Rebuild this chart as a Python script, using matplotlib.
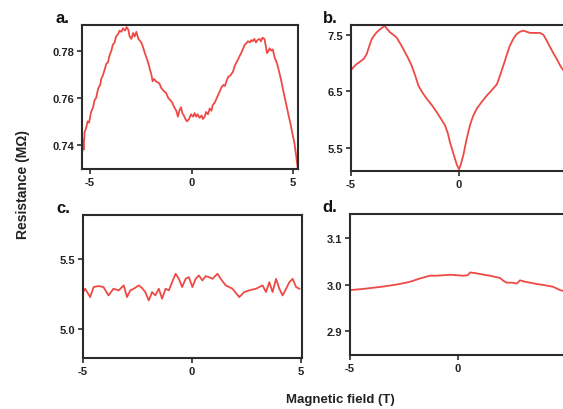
import matplotlib
matplotlib.use("Agg")
import matplotlib.pyplot as plt

plt.rcParams['font.family'] = ['Liberation Sans', 'DejaVu Sans']
plt.rcParams['axes.unicode_minus'] = False

# Panel a
a_x = [-5.40, -5.36, -5.32, -5.27, -5.20, -5.12, -5.05, -4.95, -4.85, -4.78, -4.70, -4.60, -4.50, -4.45,
       -4.37, -4.28, -4.20, -4.12, -4.04, -3.95, -3.88, -3.79, -3.72, -3.62, -3.55, -3.45, -3.38, -3.28,
       -3.20, -3.12, -3.05, -2.96, -2.88, -2.80, -2.72, -2.62, -2.52, -2.45, -2.39, -2.30, -2.22, -2.14,
       -2.05, -1.98, -1.92, -1.85, -1.75, -1.65, -1.58, -1.48, -1.38, -1.25, -1.15, -1.05, -0.95, -0.85,
       -0.75, -0.67, -0.60, -0.52, -0.45, -0.38, -0.30, -0.22, -0.12, -0.02, 0.08, 0.15, 0.23, 0.30,
       0.40, 0.50, 0.56, 0.65, 0.72, 0.81, 0.90, 0.98, 1.05, 1.15, 1.25, 1.38, 1.48, 1.58, 1.65, 1.72,
       1.82, 1.92, 2.04, 2.15, 2.25, 2.36, 2.45, 2.55, 2.62, 2.69, 2.78, 2.88, 2.95, 3.02, 3.10, 3.18,
       3.25, 3.35, 3.42, 3.50, 3.60, 3.66, 3.72, 3.77, 3.85, 3.93, 4.01, 4.10, 4.18, 4.25, 4.35, 4.43,
       4.50, 4.60, 4.70, 4.80, 4.88, 4.97, 5.07, 5.15, 5.24]
a_y = [0.7360, 0.7420, 0.7380, 0.7455, 0.7470, 0.7500, 0.7495, 0.7540, 0.7560, 0.7590, 0.7600, 0.7640,
       0.7655, 0.7680, 0.7695, 0.7720, 0.7745, 0.7750, 0.7780, 0.7800, 0.7825, 0.7835, 0.7860, 0.7870,
       0.7885, 0.7880, 0.7895, 0.7885, 0.7900, 0.7890, 0.7860, 0.7850, 0.7875, 0.7860, 0.7880, 0.7850,
       0.7840, 0.7830, 0.7815, 0.7790, 0.7770, 0.7750, 0.7720, 0.7700, 0.7670, 0.7680, 0.7670, 0.7665,
       0.7660, 0.7640, 0.7630, 0.7620, 0.7600, 0.7590, 0.7580, 0.7560, 0.7545, 0.7520, 0.7545, 0.7560,
       0.7535, 0.7525, 0.7510, 0.7500, 0.7510, 0.7530, 0.7520, 0.7535, 0.7520, 0.7530, 0.7515, 0.7525,
       0.7510, 0.7520, 0.7540, 0.7530, 0.7555, 0.7545, 0.7570, 0.7580, 0.7600, 0.7625, 0.7645, 0.7655,
       0.7650, 0.7670, 0.7690, 0.7695, 0.7710, 0.7740, 0.7755, 0.7775, 0.7790, 0.7810, 0.7825, 0.7830,
       0.7840, 0.7835, 0.7845, 0.7840, 0.7850, 0.7835, 0.7845, 0.7850, 0.7840, 0.7855, 0.7850, 0.7820,
       0.7790, 0.7795, 0.7810, 0.7800, 0.7805, 0.7770, 0.7755, 0.7735, 0.7700, 0.7670, 0.7640, 0.7600,
       0.7560, 0.7520, 0.7490, 0.7450, 0.7410, 0.7360, 0.7300]

# Panel b
b_x = [-5.00, -4.87, -4.74, -4.62, -4.51, -4.39, -4.27, -4.15, -4.04, -3.92, -3.81, -3.70, -3.60,
       -3.50, -3.43, -3.33, -3.19, -3.05, -2.89, -2.70, -2.50, -2.35, -2.19, -2.03, -1.88, -1.70,
       -1.50, -1.25, -1.03, -0.85, -0.65, -0.52, -0.42, -0.30, -0.19, -0.10, 0.00, 0.08, 0.20, 0.35,
       0.51, 0.65, 0.82, 1.05, 1.28, 1.52, 1.75, 1.90, 2.05, 2.20, 2.36, 2.52, 2.67, 2.82, 2.98, 3.13,
       3.29, 3.45, 3.60, 3.75, 3.90, 4.05, 4.20, 4.37, 4.55, 4.70, 4.83, 5.05, 5.30]
b_y = [6.87, 6.93, 6.98, 7.01, 7.04, 7.08, 7.16, 7.30, 7.42, 7.49, 7.54, 7.58, 7.61, 7.64, 7.65,
       7.60, 7.54, 7.50, 7.45, 7.33, 7.19, 7.08, 6.95, 6.78, 6.60, 6.48, 6.37, 6.25, 6.13, 6.02, 5.90,
       5.76, 5.60, 5.45, 5.31, 5.20, 5.12, 5.20, 5.37, 5.65, 5.90, 6.06, 6.19, 6.31, 6.42, 6.52, 6.62,
       6.78, 6.95, 7.13, 7.31, 7.43, 7.51, 7.55, 7.57, 7.55, 7.53, 7.53, 7.53, 7.53, 7.50, 7.40, 7.29,
       7.17, 7.05, 6.94, 6.87, 6.72, 6.55]

# Panel c
c_x = [-5.00, -4.90, -4.67, -4.51, -4.29, -4.06, -3.83, -3.60, -3.36, -3.13, -2.98, -2.83, -2.67,
       -2.44, -2.29, -2.14, -1.98, -1.83, -1.68, -1.52, -1.37, -1.21, -1.06, -0.91, -0.75, -0.60,
       -0.45, -0.29, -0.14, 0.02, 0.17, 0.32, 0.48, 0.63, 0.78, 0.94, 1.17, 1.32, 1.55, 1.86, 2.17,
       2.40, 2.63, 2.94, 3.24, 3.40, 3.55, 3.70, 3.86, 4.01, 4.16, 4.32, 4.47, 4.62, 4.78, 4.93]
c_y = [5.262, 5.286, 5.226, 5.298, 5.305, 5.298, 5.238, 5.286, 5.274, 5.310, 5.226, 5.274, 5.286,
       5.310, 5.291, 5.262, 5.202, 5.262, 5.238, 5.286, 5.214, 5.286, 5.274, 5.333, 5.393, 5.357,
       5.298, 5.357, 5.369, 5.298, 5.357, 5.381, 5.345, 5.376, 5.369, 5.357, 5.393, 5.357, 5.310,
       5.286, 5.226, 5.262, 5.274, 5.286, 5.310, 5.262, 5.333, 5.262, 5.357, 5.286, 5.238, 5.286,
       5.333, 5.357, 5.298, 5.286]

# Panel d
d_x = [-5.00, -4.50, -3.92, -3.40, -2.84, -2.50, -2.22, -1.76, -1.30, -1.00, -0.68, -0.35, -0.06,
       0.25, 0.45, 0.56, 0.87, 1.20, 1.48, 1.94, 2.10, 2.25, 2.50, 2.72, 2.87, 3.10, 3.33, 3.65, 3.95,
       4.41, 4.72, 4.88, 5.30]
d_y = [2.988, 2.990, 2.993, 2.996, 3.000, 3.003, 3.006, 3.013, 3.019, 3.019, 3.020, 3.021, 3.020,
       3.019, 3.020, 3.026, 3.024, 3.021, 3.019, 3.014, 3.008, 3.004, 3.004, 3.002, 3.009, 3.006,
       3.004, 3.001, 2.999, 2.995, 2.988, 2.986, 2.982]

panels = [
    dict(label='a.', x=a_x, y=a_y, xlim=(-5.4, 5.25), ylim=(0.7298, 0.7909),
         xtl=['-5', '0', '5'], yticks=[0.74, 0.76, 0.78], yfmt='{:.2f}',
         pos=[0.1456, 0.5854, 0.3837, 0.3512]),
    dict(label='b.', x=b_x, y=b_y, xlim=(-5.0, 5.3), ylim=(5.09, 7.67),
         xtl=['-5', '0', ''], yticks=[5.5, 6.5, 7.5], yfmt='{:.1f}',
         pos=[0.6234, 0.5805, 0.3953, 0.3561]),
    dict(label='c.', x=c_x, y=c_y, xlim=(-5.0, 5.05), ylim=(4.79, 5.814),
         xtl=['-5', '0', '5'], yticks=[5.0, 5.5], yfmt='{:.1f}',
         pos=[0.1474, 0.1244, 0.3890, 0.3488]),
    dict(label='d.', x=d_x, y=d_y, xlim=(-5.0, 5.3), ylim=(2.848, 3.152),
         xtl=['-5', '0', ''], yticks=[2.9, 3.0, 3.1], yfmt='{:.1f}',
         pos=[0.6217, 0.1317, 0.3952, 0.3439]),
]

fig = plt.figure(figsize=(5.63, 4.10), dpi=100)
line_color = '#ee4a45'
frame_color = '#2b2b2b'

for p in panels:
    ax = fig.add_axes(p['pos'])
    ax.plot(p['x'], p['y'], color=line_color, lw=1.3)
    ax.set_xlim(*p['xlim'])
    ax.set_ylim(*p['ylim'])
    ax.set_xticks([-5, 0, 5])
    ax.set_xticklabels(p['xtl'])
    ax.set_yticks(p['yticks'])
    ax.set_yticklabels([p['yfmt'].format(v) for v in p['yticks']])
    for s in ax.spines.values():
        s.set_linewidth(1.5)
        s.set_color(frame_color)
    ax.tick_params(direction='out', length=3.5, width=1.2, color=frame_color,
                   labelsize=8, pad=2)
    for t in ax.get_xticklabels() + ax.get_yticklabels():
        t.set_fontweight('bold')
        t.set_color('#222222')
    ax.text(-0.06, 1.0, p['label'], transform=ax.transAxes, fontsize=12,
            fontweight='bold', ha='right', va='bottom', color='#111111')

fig.text(0.04, 0.551, 'Resistance (MΩ)', rotation=90, ha='center', va='center',
         fontsize=10, color='#222222', fontweight='bold')
fig.text(0.604, 0.025, 'Magnetic field (T)', ha='center', va='center',
         fontsize=9.5, color='#222222', fontweight='bold')

fig.savefig('out.png', dpi=100)
